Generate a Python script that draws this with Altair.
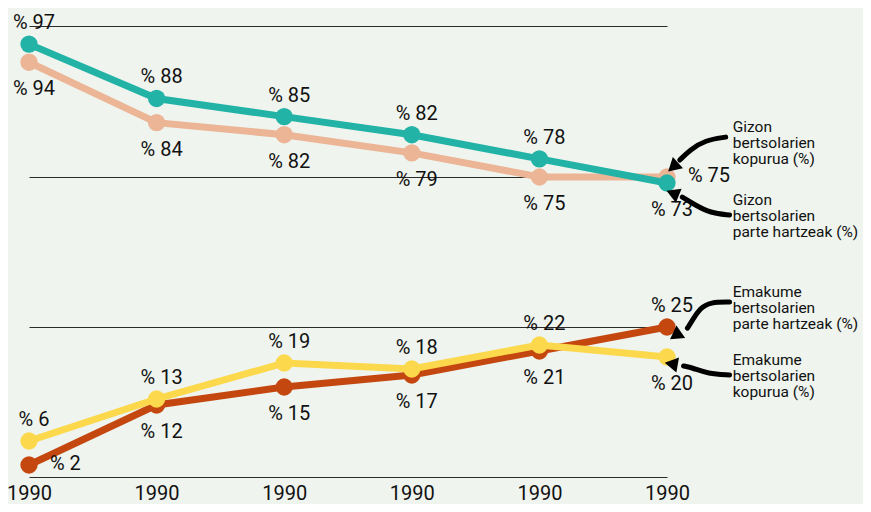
import json
import altair as alt
import pandas as pd

# ---------------- data ----------------
years = ["1990", "1990", "1990", "1990", "1990", "1990"]
gizon_kopurua = [94, 84, 82, 79, 75, 75]
gizon_parte = [97, 88, 85, 82, 78, 73]
emakume_parte = [2, 12, 15, 17, 21, 25]
emakume_kopurua = [6, 13, 19, 18, 22, 20]

series_names = [
    "Gizon bertsolarien kopurua (%)",
    "Gizon bertsolarien parte hartzeak (%)",
    "Emakume bertsolarien parte hartzeak (%)",
    "Emakume bertsolarien kopurua (%)",
]
series_values = [gizon_kopurua, gizon_parte, emakume_parte, emakume_kopurua]
series_colors = ["#ebb596", "#22b3a6", "#c4470f", "#fcd84c"]

# where each value label sits relative to its point
label_place = [
    ["below", "below", "below", "below", "below", "right"],
    ["above", "above", "above", "above", "above", "below"],
    ["right", "below", "below", "below", "below", "above"],
    ["above", "above", "above", "above", "above", "below"],
]

# annotation texts (multi-line) and their anchor (x index, y value of first line)
annot_lines = [
    ["Gizon", "bertsolarien", "kopurua (%)"],
    ["Gizon", "bertsolarien", "parte hartzeak (%)"],
    ["Emakume", "bertsolarien", "parte hartzeak (%)"],
    ["Emakume", "bertsolarien", "kopurua (%)"],
]
annot_x = [5.515, 5.515, 5.515, 5.515]
annot_y = [83.3, 67.3, 36.7, 19.5]

# curved arrow paths in data units
arrow_x = [
    [5.46, 5.30, 5.18, 5.10],
    [5.49, 5.34, 5.22, 5.12],
    [5.49, 5.34, 5.26, 5.20, 5.16],
    [5.49, 5.32, 5.20, 5.13],
]
arrow_y = [
    [81.6, 81.1, 79.5, 77.8],
    [62.3, 63.0, 65.7, 68.3],
    [33.3, 33.3, 31.3, 27.3, 24.8],
    [17.0, 17.2, 18.2, 18.5],
]
head_x = [5.06, 5.06, 5.08, 5.05]
head_y = [76.9, 69.3, 23.8, 18.8]
head_angle = [228, 292, 235, 280]

# ---------------- tables ----------------
rows = []
for s, (name, vals) in enumerate(zip(series_names, series_values)):
    for i, v in enumerate(vals):
        rows.append({"series": name, "idx": i, "value": v,
                     "label": f"% {v}", "place": label_place[s][i]})
df = pd.DataFrame(rows)

arrow_rows = []
for a, (xs, ys) in enumerate(zip(arrow_x, arrow_y)):
    for k, (xv, yv) in enumerate(zip(xs, ys)):
        arrow_rows.append({"arrow": a, "ord": k, "idx": xv, "value": yv})
arrows_df = pd.DataFrame(arrow_rows)
heads_df = pd.DataFrame({"idx": head_x, "value": head_y, "ang": head_angle})
annot_df = pd.DataFrame({"idx": annot_x, "value": annot_y, "txt": annot_lines})

FONT = "Roboto"

xenc = alt.X(
    "idx:Q",
    scale=alt.Scale(domain=[0, 5], nice=False, zero=False),
    axis=alt.Axis(values=[0, 1, 2, 3, 4, 5], labelExpr=json.dumps(years) + "[datum.value]",
                  grid=False, domain=False, ticks=False, labelFontSize=20, labelFont=FONT,
                  labelColor="#111", labelPadding=6, title=None, labelFlush=False),
)
yenc = alt.Y(
    "value:Q",
    scale=alt.Scale(domain=[0, 25, 75, 100], range=[451, 301, 151, 0], nice=False, zero=False),
    axis=alt.Axis(values=[0, 25, 75, 100], grid=True, gridColor="#2a2a2a", gridWidth=1,
                  domain=False, ticks=False, labels=False, title=None),
)

layers = []
for name, col in zip(series_names, series_colors):
    sub = alt.Chart(df).transform_filter(alt.datum.series == name)
    layers.append(sub.mark_line(color=col, strokeWidth=7).encode(x=xenc, y=yenc))
    layers.append(sub.mark_circle(color=col, size=300, opacity=1).encode(x=xenc, y=yenc))

base_txt = alt.Chart(df)
txt_style = dict(font=FONT, fontSize=20, color="#111")
layers.append(base_txt.transform_filter(alt.datum.place == "above")
              .mark_text(dy=-21, dx=5, baseline="middle", align="center", **txt_style)
              .encode(x=xenc, y=yenc, text="label:N"))
layers.append(base_txt.transform_filter(alt.datum.place == "below")
              .mark_text(dy=27, dx=5, baseline="middle", align="center", **txt_style)
              .encode(x=xenc, y=yenc, text="label:N"))
layers.append(base_txt.transform_filter(alt.datum.place == "right")
              .mark_text(dx=21, dy=-1, baseline="middle", align="left", **txt_style)
              .encode(x=xenc, y=yenc, text="label:N"))

layers.append(alt.Chart(arrows_df).mark_line(color="#000", strokeWidth=5, interpolate="basis",
                                             strokeCap="round")
              .encode(x=xenc, y=yenc, detail="arrow:N", order="ord:Q"))
layers.append(alt.Chart(heads_df).mark_point(shape="triangle", filled=True, color="#000",
                                             size=230, opacity=1)
              .encode(x=xenc, y=yenc, angle=alt.Angle("ang:Q", scale=None)))
layers.append(alt.Chart(annot_df).mark_text(align="left", baseline="middle", font=FONT,
                                            fontSize=15.5, lineHeight=16, color="#111")
              .encode(x=xenc, y=yenc, text="txt"))

chart = alt.layer(*layers).properties(
    width=638, height=451,
    autosize=alt.AutoSizeParams(type="none"),
    padding={"left": 21, "top": 18, "right": 196, "bottom": 27},
    background="#eff4ee",
).configure_view(stroke=None)

chart.save("out.html", embed_options={"renderer": "svg", "actions": False})
